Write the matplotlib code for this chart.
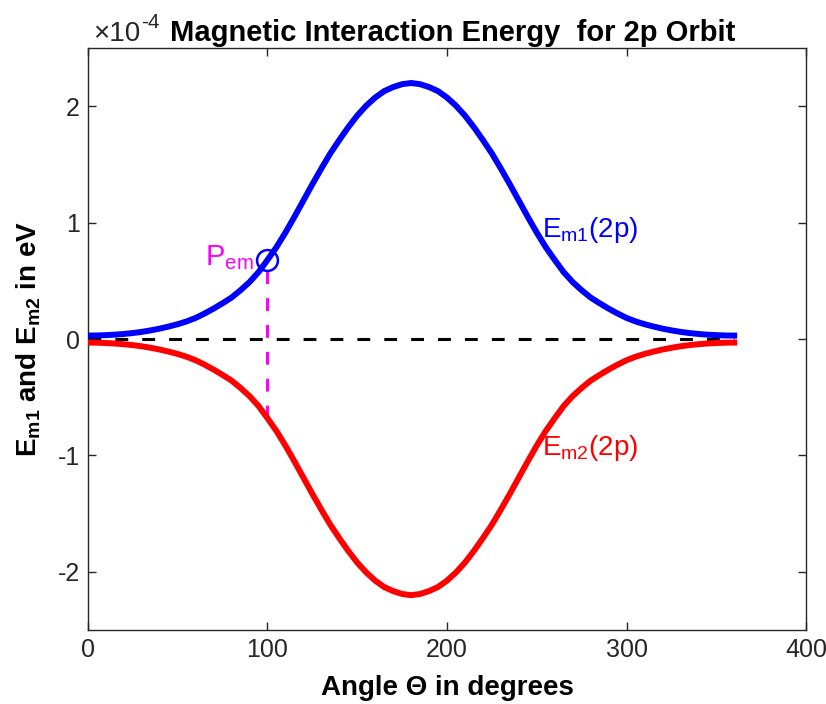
import numpy as np
import matplotlib
matplotlib.use('Agg')
import matplotlib.pyplot as plt

## Values (energies in units of 1e-4 eV)
theta = list(range(0, 365, 5))
em1 = [0.030, 0.031, 0.034, 0.038, 0.044, 0.052, 0.062, 0.075, 0.090, 0.108,
       0.128, 0.152, 0.182, 0.220, 0.262, 0.308, 0.357, 0.420, 0.490, 0.575,
       0.680, 0.790, 0.915, 1.050, 1.190, 1.330, 1.465, 1.595, 1.710, 1.820,
       1.920, 2.005, 2.075, 2.130, 2.165, 2.190, 2.200, 2.190, 2.165, 2.130,
       2.075, 2.005, 1.920, 1.820, 1.710, 1.595, 1.465, 1.330, 1.190, 1.050,
       0.915, 0.790, 0.680, 0.575, 0.490, 0.420, 0.357, 0.308, 0.262, 0.220,
       0.182, 0.152, 0.128, 0.108, 0.090, 0.075, 0.062, 0.052, 0.044, 0.038,
       0.034, 0.031, 0.030]
em2 = [-v for v in em1]
scale = 1e-4

p_theta = 100
p_em1 = 0.68
p_em2 = -0.68

xticks = [0, 100, 200, 300, 400]
yticks = [-2, -1, 0, 1, 2]
ytick_labels = ['-2', '-1', '0', '1', '2']

## Fonts
plt.rcParams['font.family'] = ['Liberation Sans', 'DejaVu Sans']
plt.rcParams['mathtext.fontset'] = 'custom'
plt.rcParams['mathtext.rm'] = 'Liberation Sans'
plt.rcParams['mathtext.it'] = 'Liberation Sans:italic'
plt.rcParams['mathtext.bf'] = 'Liberation Sans:bold'

fig = plt.figure(figsize=(8.26, 7.04), dpi=100)
ax = fig.add_axes([0.1065, 0.105, 0.8693, 0.8267])

th = np.array(theta)
ax.plot([0, 360], [0, 0], color='black', lw=2.2, linestyle=(0, (4.2, 4.6)), zorder=2)
ax.plot([p_theta, p_theta], [p_em2 * scale, p_em1 * scale], color='#ff00ff', lw=2.2,
        linestyle=(0, (4.2, 4.6)), zorder=2)
ax.plot(th, np.array(em1) * scale, color='#0000ff', lw=4.3, zorder=3)
ax.plot(th, np.array(em2) * scale, color='#ff0000', lw=4.3, zorder=3)
ax.plot([p_theta], [p_em1 * scale], marker='o', markersize=15, markerfacecolor='none',
        markeredgecolor='#0000ff', markeredgewidth=1.8, zorder=4)

ax.text(65, 0.635 * scale, r'P$_{\rm em}$', color='#ff00ff', fontsize=21, va='baseline', ha='left')
ax.text(253, 0.88 * scale, r'E$_{\rm m1}$(2p)', color='#0000ff', fontsize=20, va='baseline', ha='left')
ax.text(253, -1.0 * scale, r'E$_{\rm m2}$(2p)', color='#ff0000', fontsize=20, va='baseline', ha='left')

ax.set_xlim(0, 400)
ax.set_ylim(-2.5 * scale, 2.5 * scale)
ax.set_xticks(xticks)
ax.set_yticks([t * scale for t in yticks])
ax.set_yticklabels(ytick_labels)

ax.tick_params(direction='in', top=True, right=True, labelsize=18, length=6,
               width=1, colors='#262626', labelcolor='#262626', pad=6)
for s in ax.spines.values():
    s.set_color('#262626')
    s.set_linewidth(1)

## exponent label and title, MATLAB style
fig.text(93 / 826, 1 - 41 / 704, '\u00d710', fontsize=20, color='#262626', ha='left', va='baseline')
fig.text(141 / 826, 1 - 28 / 704, '-4', fontsize=15, color='#262626', ha='left', va='baseline')
fig.text(453 / 826, 1 - 41 / 704, 'Magnetic Interaction Energy  for 2p Orbit', fontsize=21,
         fontweight='bold', ha='center', va='baseline')

ax.set_xlabel('Angle \u0398 in degrees', fontsize=20, fontweight='bold', labelpad=9)
ax.set_ylabel(r'$\mathbf{E}_{\mathbf{m1}}$ and $\mathbf{E}_{\mathbf{m2}}$ in eV', fontsize=20,
              fontweight='bold', labelpad=10)

fig.savefig('out.png', dpi=100)
